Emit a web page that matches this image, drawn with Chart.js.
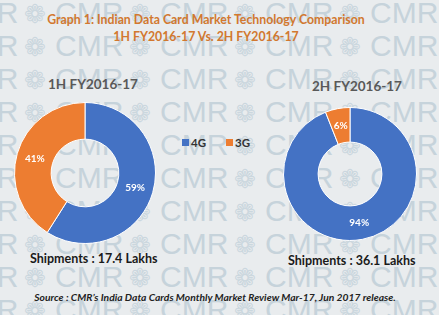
<!DOCTYPE html>
<html>
<head>
<meta charset="utf-8">
<script src="https://cdn.jsdelivr.net/npm/chart.js@4"></script>
<style>
html,body{margin:0;padding:0;}
body{width:439px;height:315px;position:relative;overflow:hidden;background:#e9ecee;font-family:Lato,"Open Sans",sans-serif;}
#wm{position:absolute;left:0;top:0;width:439px;height:315px;overflow:hidden;}
.wm{position:absolute;white-space:nowrap;font-family:"Liberation Sans",sans-serif;font-size:30px;color:#c6d3db;line-height:30px;}
.wf{position:absolute;white-space:nowrap;font-family:"DejaVu Sans",sans-serif;font-size:26px;color:#cbd7de;line-height:30px;}
.abs{position:absolute;}
#t1,#t2{left:0;width:412px;text-align:center;color:#d2782f;font-weight:bold;font-size:12.3px;}
.sub{color:#595959;font-weight:bold;font-size:13.5px;}
.ship{color:#1a1a1a;font-weight:bold;font-size:12.5px;}
#src{left:0;width:430px;text-align:center;font-style:italic;font-weight:bold;font-size:10.3px;color:#222;top:291px;}
.leg{font-size:11.5px;color:#333;font-weight:bold;display:flex;align-items:center;}
.sq{display:inline-block;width:7px;height:7px;margin-right:2px;}
</style>
</head>
<body>
<div id="wm"></div>
<div id="t1" class="abs" style="top:12px">Graph 1: Indian Data Card Market Technology Comparison</div>
<div id="t2" class="abs" style="top:29px">1H FY2016-17 Vs. 2H FY2016-17</div>
<div id="s1" class="abs sub" style="left:48px;top:76px"></div>
<div id="s2" class="abs sub" style="left:312px;top:78px"></div>
<div id="legend" class="abs" style="left:182px;top:136px;display:flex;gap:20px"></div>
<div class="abs" style="left:13px;top:101px;width:144px;height:144px"><canvas id="c1"></canvas></div>
<div class="abs" style="left:282px;top:106px;width:136px;height:136px"><canvas id="c2"></canvas></div>
<div id="sh1" class="abs ship" style="left:30px;top:251px"></div>
<div id="sh2" class="abs ship" style="left:288px;top:253px"></div>
<div id="src" class="abs">Source : CMR’s India Data Cards Monthly Market Review Mar-17, Jun 2017 release.</div>
<script>
// ---- data ----
const categories = ["4G", "3G"];
const periods = ["1H FY2016-17", "2H FY2016-17"];
const share1H = [59, 41];
const share2H = [94, 6];
const shipments = ["17.4", "36.1"];
const colors = ["#4472c4", "#ed7d31"];

// watermark
const wm = document.getElementById('wm');
for (let r = 0; r < 10; r++) {
  for (let k = -1; k < 5; k++) {
    const x = 55 + 105 * k;
    const y = 2 + 33 * r - 4;
    const d = document.createElement('div');
    d.className = 'wm';
    d.style.left = x + 'px';
    d.style.top = y + 'px';
    d.textContent = 'CMR';
    wm.appendChild(d);
    const f = document.createElement('div');
    f.className = 'wf';
    f.style.left = (x + 74) + 'px';
    f.style.top = (y + 1) + 'px';
    f.textContent = '❁';
    wm.appendChild(f);
  }
}

document.getElementById('s1').textContent = periods[0];
document.getElementById('s2').textContent = periods[1];
document.getElementById('sh1').textContent = 'Shipments : ' + shipments[0] + ' Lakhs';
document.getElementById('sh2').textContent = 'Shipments : ' + shipments[1] + ' Lakhs';

const leg = document.getElementById('legend');
categories.forEach((c, i) => {
  const it = document.createElement('div');
  it.className = 'leg';
  it.innerHTML = '<span class="sq" style="background:' + colors[i] + '"></span>' + c;
  leg.appendChild(it);
});

const labelPlugin = {
  id: 'pctLabels',
  afterDatasetsDraw(chart) {
    const ctx = chart.ctx;
    const meta = chart.getDatasetMeta(0);
    const data = chart.data.datasets[0].data;
    ctx.save();
    ctx.fillStyle = '#ffffff';
    ctx.font = 'bold 10px Lato, sans-serif';
    ctx.textAlign = 'center';
    ctx.textBaseline = 'middle';
    meta.data.forEach((arc, i) => {
      const p = arc.tooltipPosition();
      ctx.fillText(data[i] + '%', p.x, p.y);
    });
    ctx.restore();
  }
};

function make(id, values) {
  new Chart(document.getElementById(id), {
    type: 'doughnut',
    data: {
      labels: categories,
      datasets: [{
        data: values,
        backgroundColor: colors,
        borderColor: '#ffffff',
        borderWidth: 1
      }]
    },
    options: {
      responsive: true,
      maintainAspectRatio: false,
      animation: false,
      cutout: '48%',
      layout: { padding: 1 },
      plugins: { legend: { display: false }, tooltip: { enabled: false } }
    },
    plugins: [labelPlugin]
  });
}
make('c1', share1H);
make('c2', share2H);
</script>
</body>
</html>
